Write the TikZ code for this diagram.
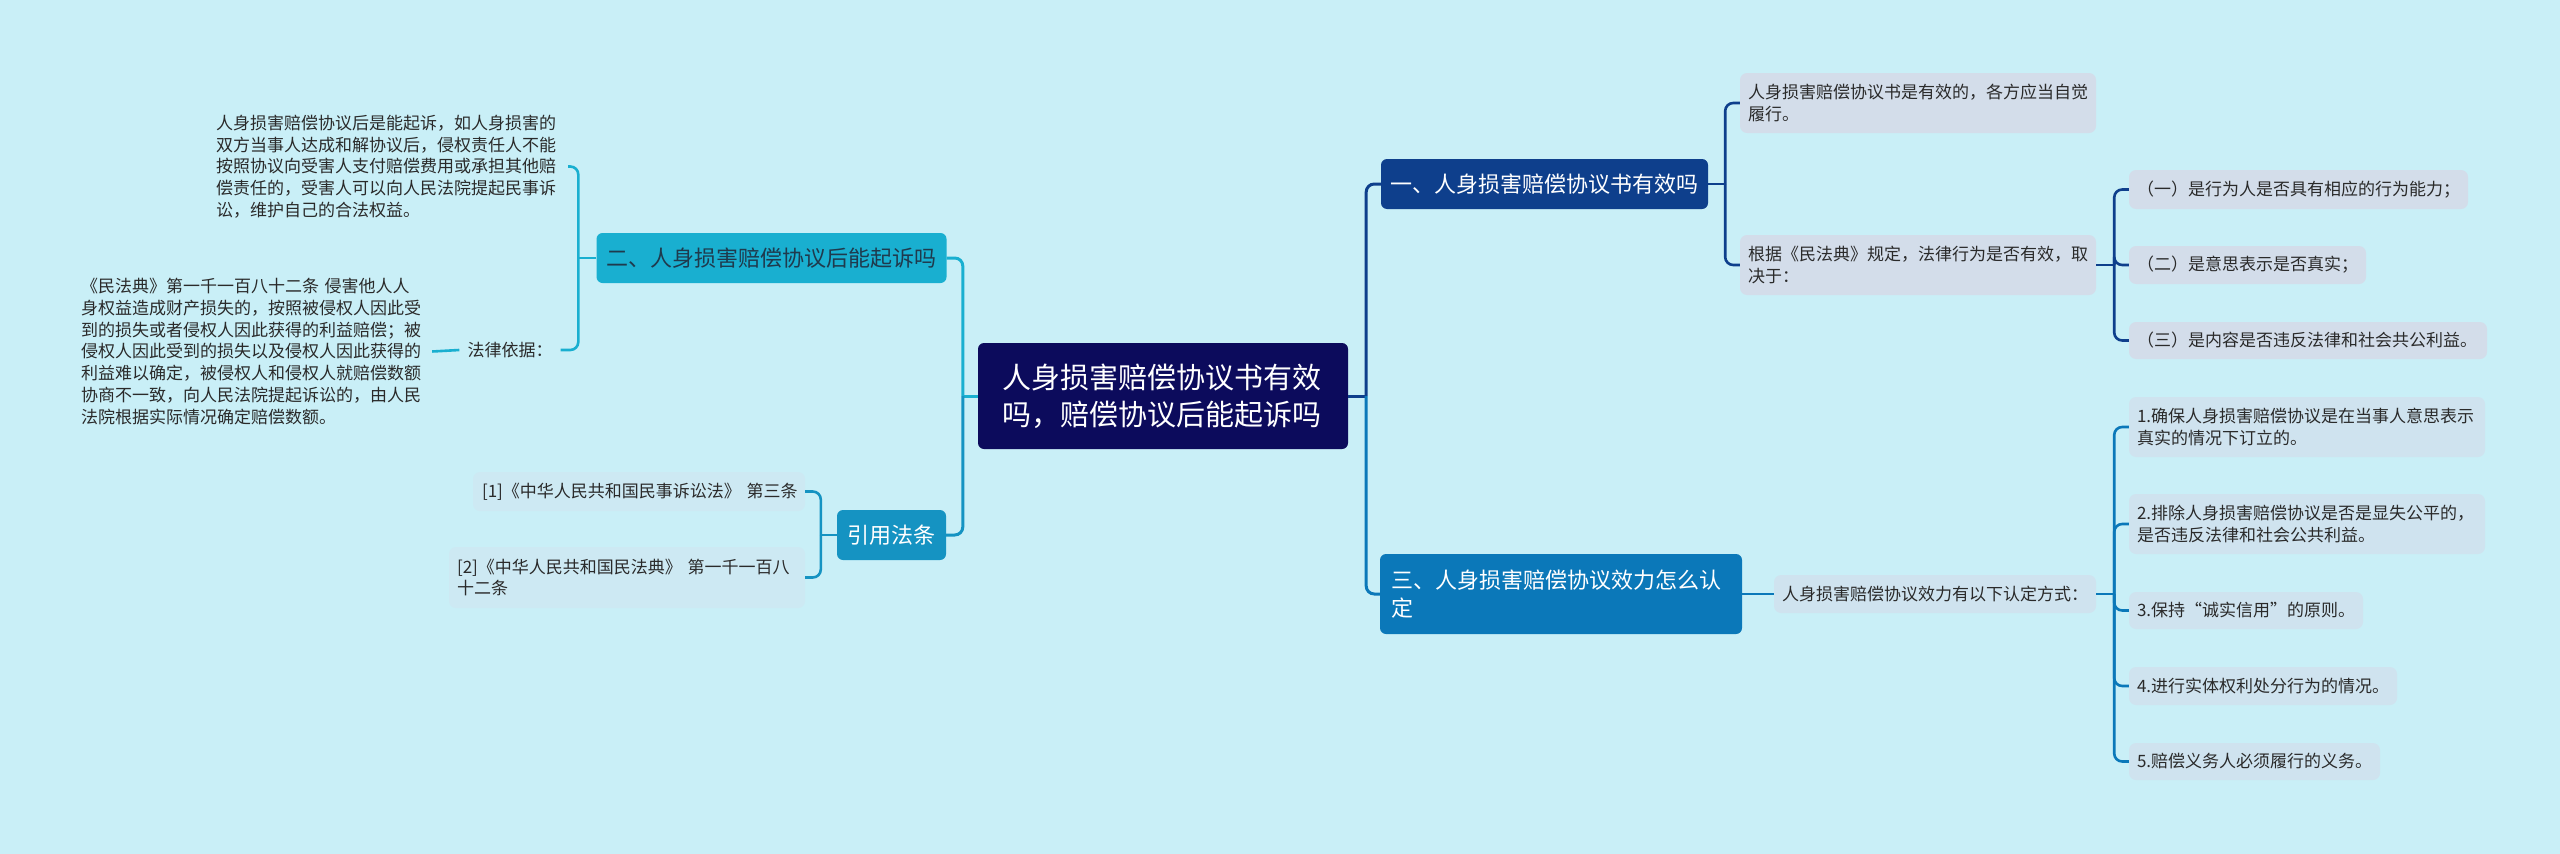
\documentclass[tikz,border=0pt]{standalone}
\usepackage{fontspec}
\setmainfont{Noto Sans CJK SC}
\definecolor{bgc}{HTML}{C9EFF7}
\definecolor{cnavy}{HTML}{0C0B5C}
\definecolor{cone}{HTML}{0E3F8C}
\definecolor{cthree}{HTML}{0B78B9}
\definecolor{ctwo}{HTML}{19AFD0}
\definecolor{cref}{HTML}{1593C2}
\definecolor{twotext}{HTML}{1F3A4D}
\definecolor{leafA}{HTML}{D3DDEA}
\definecolor{leafB}{HTML}{CFE3EF}
\definecolor{leafC}{HTML}{CDE9F3}
\definecolor{leaftext}{HTML}{2A2A2A}
\tikzset{
  mainbox/.style={rectangle, rounded corners=6pt, inner ysep=0pt, align=left, text=white, font=\fontsize{22}{28}\selectfont},
  leafbox/.style={rectangle, rounded corners=7pt, inner ysep=0pt, inner xsep=8pt, align=left, text=leaftext, font=\fontsize{17}{21.7}\selectfont},
  plainbox/.style={rectangle, inner ysep=0pt, align=left, text=leaftext, font=\fontsize{17}{21.7}\selectfont},
  link/.style={line width=2.6pt, rounded corners=8pt},
}
\begin{document}
\begin{tikzpicture}[x=1pt,y=-1pt]
\useasboundingbox (0,0) rectangle (2560,854);
\fill[bgc] (0,0) rectangle (2560,854);

% central
\node[mainbox, fill=cnavy, minimum width=370, minimum height=106, inner xsep=24pt, text width=322pt, font=\fontsize{29}{37}\selectfont] (c) at (1163,396) {人身损害赔偿协议书有效\\吗，赔偿协议后能起诉吗};

% main branches
\node[mainbox, fill=cone, minimum width=327, minimum height=50, inner xsep=9pt, text width=309pt] (n1) at (1544.5,184) {一、人身损害赔偿协议书有效吗};
\node[mainbox, fill=cthree, minimum width=362, minimum height=80, inner xsep=11pt, text width=340pt] (n3) at (1561,594) {三、人身损害赔偿协议效力怎么认\\定};
\node[mainbox, fill=ctwo, text=twotext, minimum width=350, minimum height=50, inner xsep=10pt, text width=330pt] (n2) at (771.5,258) {二、人身损害赔偿协议后能起诉吗};
\node[mainbox, fill=cref, minimum width=109, minimum height=50, inner xsep=10pt, text width=89pt, align=center] (ref) at (891.5,535) {引用法条};

% branch one leaves
\node[leafbox, fill=leafA, minimum width=356, minimum height=60, text width=340pt] (l1a) at (1918,103) {人身损害赔偿协议书是有效的，各方应当自觉\\履行。};
\node[leafbox, fill=leafA, minimum width=356, minimum height=60, text width=340pt] (l1b) at (1918,265) {根据《民法典》规定，法律行为是否有效，取\\决于：};
\node[leafbox, fill=leafA, minimum width=339, minimum height=39, text width=323pt] (l1b1) at (2298.5,189.5) {（一）是行为人是否具有相应的行为能力；};
\node[leafbox, fill=leafA, minimum width=237, minimum height=38, text width=221pt] (l1b2) at (2247.5,265) {（二）是意思表示是否真实；};
\node[leafbox, fill=leafA, minimum width=358, minimum height=37, text width=342pt] (l1b3) at (2308,340.5) {（三）是内容是否违反法律和社会共公利益。};

% branch three leaves
\node[leafbox, fill=leafB, minimum width=322, minimum height=38, text width=306pt] (l3) at (1935,594) {人身损害赔偿协议效力有以下认定方式：};
\node[leafbox, fill=leafB, minimum width=356, minimum height=60, text width=340pt] (l3a) at (2307,427) {1.确保人身损害赔偿协议是在当事人意思表示\\真实的情况下订立的。};
\node[leafbox, fill=leafB, minimum width=356, minimum height=60, text width=340pt] (l3b) at (2307,524) {2.排除人身损害赔偿协议是否是显失公平的，\\是否违反法律和社会公共利益。};
\node[leafbox, fill=leafB, minimum width=234, minimum height=37, text width=218pt] (l3c) at (2246,610.5) {3.保持“诚实信用”的原则。};
\node[leafbox, fill=leafB, minimum width=268, minimum height=38, text width=252pt] (l3d) at (2263,686) {4.进行实体权利处分行为的情况。};
\node[leafbox, fill=leafB, minimum width=251, minimum height=37, text width=235pt] (l3e) at (2254.5,761.5) {5.赔偿义务人必须履行的义务。};

% branch two leaves
\node[plainbox, inner xsep=10pt, text width=342pt] (p1) at (387,166.5) {人身损害赔偿协议后是能起诉，如人身损害的\\双方当事人达成和解协议后，侵权责任人不能\\按照协议向受害人支付赔偿费用或承担其他赔\\偿责任的，受害人可以向人民法院提起民事诉\\讼，维护自己的合法权益。};
\node[plainbox, inner xsep=8pt] (law) at (510,350) {法律依据：};
\node[plainbox, inner xsep=9pt, text width=342pt] (p2) at (252,351.5) {《民法典》第一千一百八十二条 侵害他人人\\身权益造成财产损失的，按照被侵权人因此受\\到的损失或者侵权人因此获得的利益赔偿；被\\侵权人因此受到的损失以及侵权人因此获得的\\利益难以确定，被侵权人和侵权人就赔偿数额\\协商不一致，向人民法院提起诉讼的，由人民\\法院根据实际情况确定赔偿数额。};

% reference leaves
\node[leafbox, fill=leafC, minimum width=332, minimum height=39, inner xsep=9pt, text width=314pt] (r1) at (639,491.5) {\mbox{[1]《中华人民共和国民事诉讼法》 第三条}};
\node[leafbox, fill=leafC, minimum width=356, minimum height=61, text width=340pt] (r2) at (627,577.5) {[2]《中华人民共和国民法典》 第一千一百八\\十二条};

% junctions
\coordinate (jc) at ([xshift=18pt]c.east);
\coordinate (jcl) at ([xshift=-15pt]c.west);
\coordinate (j1) at ([xshift=17pt]n1.east);
\coordinate (j1b) at ([xshift=18pt]l1b.east);
\coordinate (j3b) at ([xshift=18pt]l3.east);
\coordinate (j2) at ([xshift=-18pt]n2.west);
\coordinate (jr) at ([xshift=-16pt]ref.west);

% connectors right
\draw[link, line width=3pt, cone] (c.east) -- (jc);
\draw[link, line width=3pt, cone] (jc) |- (n1.west);
\draw[link, line width=3pt, cthree] (jc) |- (n3.west);
\draw[link, cone] (n1.east) -- (j1);
\draw[link, cone] (j1) |- (l1a.west);
\draw[link, cone] (j1) |- (l1b.west);
\draw[link, cone] (l1b.east) -- (j1b);
\draw[link, cone] (j1b) |- (l1b1.west);
\draw[link, cone] (j1b) |- (l1b2.west);
\draw[link, cone] (j1b) |- (l1b3.west);
\draw[link, cthree] (n3.east) -- (l3.west);
\draw[link, cthree] (l3.east) -- (j3b);
\draw[link, cthree] (j3b) |- (l3a.west);
\draw[link, cthree] (j3b) |- (l3b.west);
\draw[link, cthree] (j3b) |- (l3c.west);
\draw[link, cthree] (j3b) |- (l3d.west);
\draw[link, cthree] (j3b) |- (l3e.west);

% connectors left
\draw[link, line width=3pt, ctwo] (c.west) -- (jcl);
\draw[link, line width=3pt, ctwo] (jcl) |- (n2.east);
\draw[link, line width=3pt, cref] (jcl) |- (ref.east);
\draw[link, ctwo] (n2.west) -- (j2);
\draw[link, ctwo] (j2) |- (p1.east);
\draw[link, ctwo] (j2) |- (law.east);
\draw[link, ctwo] (law.west) -- (p2.east);
\draw[link, cref] (ref.west) -- (jr);
\draw[link, cref] (jr) |- (r1.east);
\draw[link, cref] (jr) |- (r2.east);
\end{tikzpicture}
\end{document}
